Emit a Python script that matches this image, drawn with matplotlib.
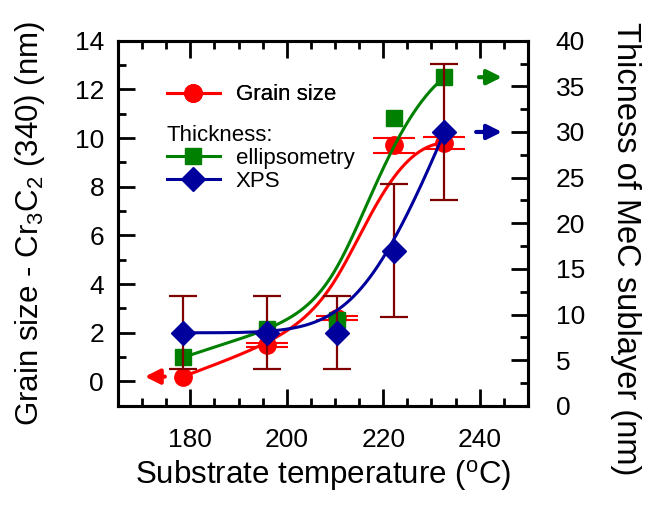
import numpy as np
import matplotlib.pyplot as plt
from matplotlib.lines import Line2D
from matplotlib.ticker import MultipleLocator

plt.rcParams['font.family'] = ['Liberation Sans', 'DejaVu Sans']
plt.rcParams['mathtext.fontset'] = 'custom'
plt.rcParams['mathtext.rm'] = 'Liberation Sans'

# data
temp = np.array([178.5, 196.0, 210.5, 222.3, 232.7])
grain = np.array([0.2, 1.5, 2.6, 9.7, 9.8])
grain_err = np.array([0.0, 0.08, 0.09, 0.31, 0.24])
ellips = np.array([5.3, 8.4, 9.4, 31.5, 36.0])
xps = np.array([8.0, 8.0, 8.0, 17.0, 30.0])
xps_err = np.array([4.0, 4.0, 4.0, 7.3, 7.5])

RED = '#ff0000'
GREEN = '#008000'
BLUE = '#00009c'
MAROON = '#800000'


def bspline(px, py, n=300):
    # clamped cubic B-spline using the points as control points
    k = 3
    m = len(px)
    inner = np.linspace(0, 1, m - k + 1)[1:-1]
    t = np.concatenate([np.zeros(k + 1), inner, np.ones(k + 1)])
    u = np.linspace(0, 1, n)
    u[-1] = 1 - 1e-12
    B = np.zeros((n, len(t) - 1))
    for i in range(len(t) - 1):
        B[:, i] = (u >= t[i]) & (u < t[i + 1])
    for d in range(1, k + 1):
        Bn = np.zeros((n, len(t) - 1 - d))
        for i in range(len(t) - 1 - d):
            a = 0.0
            if t[i + d] > t[i]:
                a = (u - t[i]) / (t[i + d] - t[i]) * B[:, i]
            b = 0.0
            if t[i + d + 1] > t[i + 1]:
                b = (t[i + d + 1] - u) / (t[i + d + 1] - t[i + 1]) * B[:, i + 1]
            Bn[:, i] = a + b
        B = Bn
    return B @ px, B @ py


fig = plt.figure(figsize=(6.59, 5.15), dpi=100)
ax = fig.add_axes([0.179, 0.212, 0.622, 0.709])
ax2 = ax.twinx()

lw = 2.2
# grain size (left axis)
gx, gy = bspline(temp, grain)
ax.plot(gx, gy, color=RED, lw=lw, zorder=2)
has_err = grain_err > 0
ax.errorbar(temp[has_err], grain[has_err], yerr=grain_err[has_err], fmt='none',
            ecolor=RED, elinewidth=1.5, capsize=15, capthick=1.5, zorder=3)
ax.plot(temp, grain, 'o', color=RED, ms=12.5, zorder=3)

# thickness (right axis)
ex, ey = bspline(temp, ellips)
ax2.plot(ex, ey, color=GREEN, lw=lw, zorder=2)
ax2.plot(temp, ellips, 's', color=GREEN, ms=11.5, zorder=3)
ax2.errorbar(temp, xps, yerr=xps_err, fmt='none', ecolor=MAROON, elinewidth=1.6,
             capsize=10, capthick=1.6, zorder=4)
xx, xy = bspline(temp, xps)
ax2.plot(xx, xy, color=BLUE, lw=lw, zorder=5)
ax2.plot(temp, xps, 'D', color=BLUE, ms=12.5, zorder=6)

# arrows showing which axis
arr = dict(arrowstyle='-|>', lw=3, mutation_scale=22)
ax.annotate('', xy=(170.0, grain[0]), xytext=(175.3, grain[0]),
            arrowprops=dict(arr, color=RED), annotation_clip=False)
ax2.annotate('', xy=(245.2, ellips[-1]), xytext=(239.3, ellips[-1]),
             arrowprops=dict(arr, color=GREEN), annotation_clip=False)
ax2.annotate('', xy=(245.2, xps[-1]), xytext=(238.7, xps[-1]),
             arrowprops=dict(arr, color=BLUE), annotation_clip=False)

ax.set_xlim(165, 250)
ax.set_ylim(-1, 14)
ax2.set_ylim(0, 40)
ax.xaxis.set_major_locator(MultipleLocator(20))
ax.xaxis.set_minor_locator(MultipleLocator(5))
ax.yaxis.set_major_locator(MultipleLocator(2))
ax.yaxis.set_minor_locator(MultipleLocator(1))
ax2.yaxis.set_major_locator(MultipleLocator(5))
ax2.yaxis.set_minor_locator(MultipleLocator(2.5))

for a in (ax, ax2):
    for s in a.spines.values():
        s.set_linewidth(2.2)
ax.tick_params(which='both', direction='in', top=True, right=False, width=2,
               labelsize=19)
ax.tick_params(axis='x', pad=16)
ax.tick_params(axis='y', pad=10)
ax.tick_params(which='major', length=12)
ax.tick_params(which='minor', length=6)
ax2.tick_params(which='both', direction='in', width=2, labelsize=19, pad=20)
ax2.tick_params(which='major', length=12)
ax2.tick_params(which='minor', length=6)

ax.set_xlabel('Substrate temperature ($^{\\mathrm{o}}$C)', fontsize=22.5, labelpad=4)
ax.set_ylabel('Grain size - Cr$_3$C$_2$ (340) (nm)', fontsize=22.5, labelpad=20)
ax2.set_ylabel('Thicness of MeC sublayer (nm)', fontsize=23.5, rotation=270)
ax2.yaxis.set_label_coords(1.275, 0.43)

# legend
h1 = [Line2D([], [], color=RED, lw=lw, marker='o', ms=12.5)]
h2 = [Line2D([], [], color=GREEN, lw=lw, marker='s', ms=11.5),
      Line2D([], [], color=BLUE, lw=lw, marker='D', ms=12.5)]
leg1 = ax.legend(h1, ['Grain size'], loc='upper left', bbox_to_anchor=(0.07, 0.935),
                 frameon=False, fontsize=16, handlelength=2.4, handletextpad=0.7)
ax.add_artist(leg1)
leg2 = ax2.legend(h2, ['ellipsometry', 'XPS'], loc='upper left', bbox_to_anchor=(0.07, 0.825),
                  frameon=False, fontsize=16, handlelength=2.4, handletextpad=0.7,
                  title='Thickness:', title_fontsize=16, alignment='left',
                  labelspacing=0.1)

fig.savefig('out.png', dpi=100)
